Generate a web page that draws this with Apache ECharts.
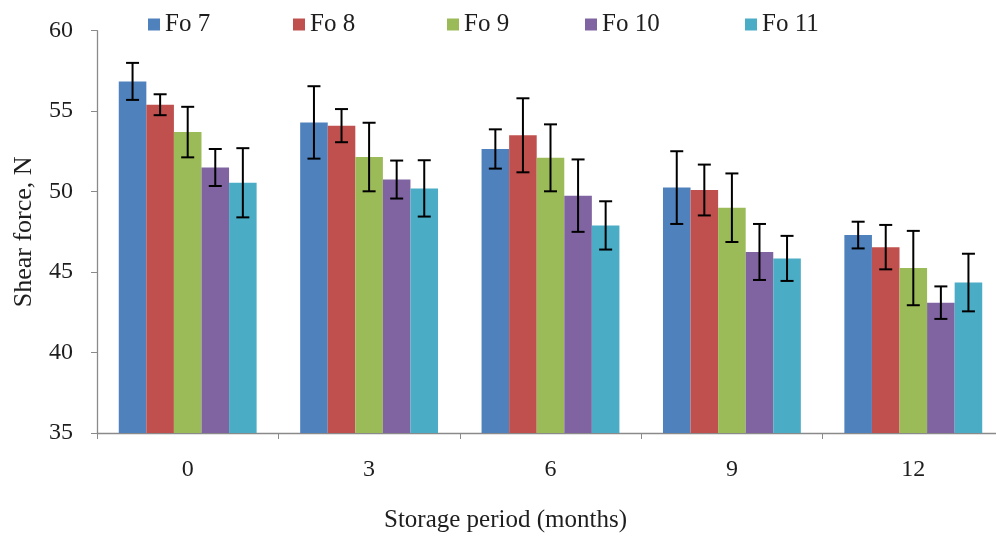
<!DOCTYPE html>
<html>
<head>
<meta charset="utf-8">
<script src="https://cdn.jsdelivr.net/npm/echarts@6/dist/echarts.min.js"></script>
<style>
html,body{margin:0;padding:0;background:#fff;}
#chart{width:996px;height:538px;}
</style>
</head>
<body>
<div id="chart"></div>
<script>
// ---- data ----
const categories = ['0', '3', '6', '9', '12'];
const seriesNames = ['Fo 7', 'Fo 8', 'Fo 9', 'Fo 10', 'Fo 11'];
const fo7 = [56.85, 54.3, 52.65, 50.25, 47.3];
const fo8 = [55.4, 54.1, 53.5, 50.1, 46.55];
const fo9 = [53.7, 52.15, 52.1, 49.0, 45.25];
const fo10 = [51.5, 50.75, 49.75, 46.25, 43.1];
const fo11 = [50.55, 50.2, 47.9, 45.85, 44.35];
const fo7Err = [1.15, 2.25, 1.22, 2.26, 0.83];
const fo8Err = [0.65, 1.03, 2.3, 1.58, 1.38];
const fo9Err = [1.57, 2.13, 2.08, 2.13, 2.31];
const fo10Err = [1.15, 1.18, 2.25, 1.74, 1.01];
const fo11Err = [2.15, 1.75, 1.5, 1.4, 1.79];
const yTicks = [35, 40, 45, 50, 55, 60];

// ---- styling ----
const values = [fo7, fo8, fo9, fo10, fo11];
const errors = [fo7Err, fo8Err, fo9Err, fo10Err, fo11Err];
const colors = ['#4f81bd', '#c0504d', '#9bbb59', '#8064a2', '#4bacc6'];
const legendLeft = [148, 293, 447, 585, 745];
const FONT = '"Liberation Serif", "Times New Roman", serif';
const TXT = '#1e1e1e';
const AXIS = '#8a8a8a';
const CAT_GAP = 0.24;

const barSeries = seriesNames.map((name, i) => ({
  name: name,
  type: 'bar',
  data: values[i],
  itemStyle: { color: colors[i] },
  barGap: '0%',
  barCategoryGap: (CAT_GAP * 100) + '%',
  z: 2
}));

const errData = [];
values.forEach((vals, s) => {
  vals.forEach((v, c) => errData.push([c, v, errors[s][c], s]));
});

const errSeries = {
  type: 'custom',
  name: 'err',
  z: 10,
  silent: true,
  encode: { x: 0, y: 1 },
  data: errData,
  renderItem: function (params, api) {
    const c = api.value(0), v = api.value(1), e = api.value(2), s = api.value(3);
    const n = seriesNames.length;
    const band = api.size([1, 0])[0];
    const bw = band * (1 - CAT_GAP) / n;
    const center = api.coord([c, v]);
    const cx = center[0] + (s - (n - 1) / 2) * bw;
    const yHi = api.coord([c, v + e])[1];
    const yLo = api.coord([c, v - e])[1];
    const cap = 6.5;
    const st = { stroke: '#000', lineWidth: 2 };
    return {
      type: 'group',
      children: [
        { type: 'line', shape: { x1: cx, y1: yHi, x2: cx, y2: yLo }, style: st },
        { type: 'line', shape: { x1: cx - cap, y1: yHi, x2: cx + cap, y2: yHi }, style: st },
        { type: 'line', shape: { x1: cx - cap, y1: yLo, x2: cx + cap, y2: yLo }, style: st }
      ]
    };
  }
};

const chart = echarts.init(document.getElementById('chart'), null, { renderer: 'canvas' });
chart.setOption({
  animation: false,
  backgroundColor: '#fff',
  textStyle: { fontFamily: FONT, color: TXT },
  legend: seriesNames.map((name, i) => ({
    data: [name],
    left: legendLeft[i],
    top: 12,
    padding: 0,
    icon: 'rect',
    itemWidth: 12,
    itemHeight: 12,
    selectedMode: false,
    textStyle: { fontFamily: FONT, fontSize: 25, color: TXT, lineHeight: 24 }
  })),
  grid: { left: 97, top: 30.7, right: -8, bottom: 105, containLabel: false, outerBoundsMode: 'none' },
  xAxis: {
    type: 'category',
    data: categories,
    axisLine: { lineStyle: { color: AXIS, width: 1.3 } },
    axisTick: { show: true, alignWithLabel: false, length: 6, lineStyle: { color: AXIS } },
    axisLabel: { fontFamily: FONT, fontSize: 24, color: TXT, margin: 25 },
    name: 'Storage period (months)',
    nameLocation: 'middle',
    nameGap: 75,
    nameTextStyle: { fontFamily: FONT, fontSize: 25, color: TXT, padding: [0, 90, 0, 0] }
  },
  yAxis: {
    type: 'value',
    min: yTicks[0],
    max: yTicks[yTicks.length - 1],
    interval: yTicks[1] - yTicks[0],
    axisLine: { show: true, lineStyle: { color: AXIS, width: 1.3 } },
    axisTick: { show: true, length: 6, lineStyle: { color: AXIS } },
    splitLine: { show: false },
    axisLabel: { fontFamily: FONT, fontSize: 24, color: TXT, margin: 24 },
    name: 'Shear force, N',
    nameLocation: 'middle',
    nameGap: 60,
    nameRotate: 90,
    nameTextStyle: { fontFamily: FONT, fontSize: 26, color: TXT }
  },
  series: barSeries.concat([errSeries])
});
</script>
</body>
</html>
